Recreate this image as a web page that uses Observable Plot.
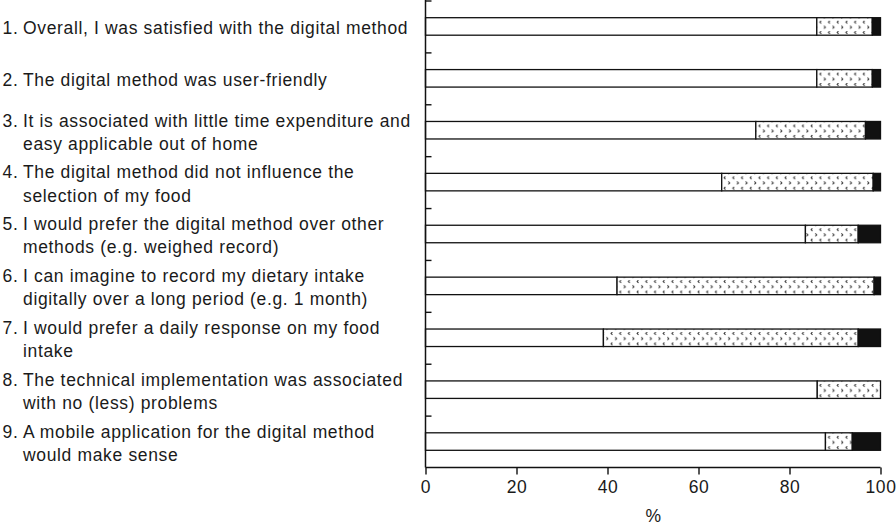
<!DOCTYPE html>
<html><head><meta charset="utf-8">
<script src="https://cdn.jsdelivr.net/npm/d3@7"></script>
<script src="https://cdn.jsdelivr.net/npm/@observablehq/plot@0.6"></script>
<style>
body{margin:0;background:#fff;}
#chart svg{font-family:"Liberation Sans",Arial,sans-serif;}
#chart svg text{letter-spacing:0.65px;}
</style>
</head><body><div id="chart"></div>
<script>
const numbers = ["1.","2.","3.","4.","5.","6.","7.","8.","9."];
const statements = [
  "Overall, I was satisfied with the digital method",
  "The digital method was user-friendly",
  "It is associated with little time expenditure and\neasy applicable out of home",
  "The digital method did not influence the\nselection of my food",
  "I would prefer the digital method over other\nmethods (e.g. weighed record)",
  "I can imagine to record my dietary intake\ndigitally over a long period (e.g. 1 month)",
  "I would prefer a daily response on my food\nintake",
  "The technical implementation was associated\nwith no (less) problems",
  "A mobile application for the digital method\nwould make sense"
];
const agree    = [86, 86, 72.6, 65.1, 83.5, 42.1, 39.1, 86.1, 87.9];
const neutral  = [12.2, 12.2, 24.1, 33.3, 11.6, 56.5, 56.0, 13.9, 5.9];
const disagree = [1.8, 1.8, 3.3, 1.6, 4.9, 1.4, 4.9, 0, 6.2];
const xTicks = [0, 20, 40, 60, 80, 100];
const xLabel = "%";

const rows = numbers.map((n, i) => ({
  q: n,
  num: statements[i].includes("\n") ? n + "\n\u00a0" : n,
  s: statements[i],
  a: agree[i], b: neutral[i], c: disagree[i]
}));

const W = 896, H = 526, mL = 425.5, mR = 15.5, mT = 0.5, mB = 58.5;
const step = (H - mT - mB) / numbers.length;
const barH = 17.5;
const inset = (step - barH) / 2;
const fs = 17.5;

const defsMark = () => {
  const g = d3.create("svg:g");
  const ph = step / 5;
  const p = g.append("defs").append("pattern")
    .attr("id", "dots").attr("patternUnits", "userSpaceOnUse")
    .attr("width", 8.7).attr("height", ph);
  p.append("rect").attr("width", 8.7).attr("height", ph).attr("fill", "#fff");
  const y1 = 1.3, y2 = 1.3 + ph / 2;
  p.append("path")
    .attr("d", `M3.4,${y1-1.5}L2,${y1}L3.4,${y1+1.5}M6.2,${y2-1.5}L7.6,${y2}L6.2,${y2+1.5}`)
    .attr("fill", "none").attr("stroke", "#333").attr("stroke-width", 1);
  return g.node();
};

const axisLine = (index, scales, values, dims) => {
  const g = d3.create("svg:g");
  g.append("line")
    .attr("x1", dims.marginLeft).attr("x2", dims.width - dims.marginRight)
    .attr("y1", dims.height - dims.marginBottom).attr("y2", dims.height - dims.marginBottom)
    .attr("stroke", "#111").attr("stroke-width", 1.5);
  g.append("line")
    .attr("x1", dims.marginLeft).attr("x2", dims.marginLeft)
    .attr("y1", 0).attr("y2", dims.height - dims.marginBottom)
    .attr("stroke", "#111").attr("stroke-width", 1.5);
  return g.node();
};

const chart = Plot.plot({
  width: W, height: H,
  marginLeft: mL, marginRight: mR, marginTop: mT, marginBottom: mB,
  style: {fontFamily: '"Liberation Sans", Arial, sans-serif', background: "#fff"},
  x: {domain: [0, 100], ticks: xTicks},
  y: {type: "band", domain: numbers, padding: 0, round: false},
  marks: [
    defsMark,
    Plot.barX(rows, {y: "q", x1: 0, x2: "a", fill: "#fff", stroke: "#111", strokeWidth: 1.3, insetTop: inset, insetBottom: inset}),
    Plot.barX(rows, {y: "q", x1: "a", x2: d => d.a + d.b, fill: "url(#dots)", stroke: "#111", strokeWidth: 1.3, insetTop: inset, insetBottom: inset}),
    Plot.barX(rows.filter(d => d.c > 0), {y: "q", x1: d => d.a + d.b, x2: d => d.a + d.b + d.c, fill: "#111", stroke: "#111", strokeWidth: 1.3, insetTop: inset, insetBottom: inset}),
    Plot.ruleX(rows, {x: "a", y: "q", stroke: "#111", strokeWidth: 2.4, insetTop: inset, insetBottom: inset}),
    axisLine,
    Plot.axisY({anchor: "left", tickSize: -6, text: null, label: null, dy: -step / 2, stroke: "#111", strokeWidth: 1.4}),
    Plot.axisX({anchor: "bottom", ticks: xTicks, tickSize: 7, tickPadding: 6, fontSize: fs, label: null, stroke: "#111", strokeWidth: 1.4, fill: "#1a1a1a"}),
    Plot.text([xLabel], {frameAnchor: "bottom", text: d => d, dy: 54, fontSize: fs, fill: "#1a1a1a"}),
    Plot.text(rows, {y: "q", text: "num", frameAnchor: "left", dx: -(mL - 2), textAnchor: "start", fontSize: fs, lineHeight: 1.32, fill: "#1a1a1a"}),
    Plot.text(rows, {y: "q", text: "s", frameAnchor: "left", dx: -(mL - 22.5), textAnchor: "start", fontSize: fs, lineHeight: 1.32, fill: "#1a1a1a"})
  ]
});
document.getElementById("chart").appendChild(chart);
</script>
</body></html>
